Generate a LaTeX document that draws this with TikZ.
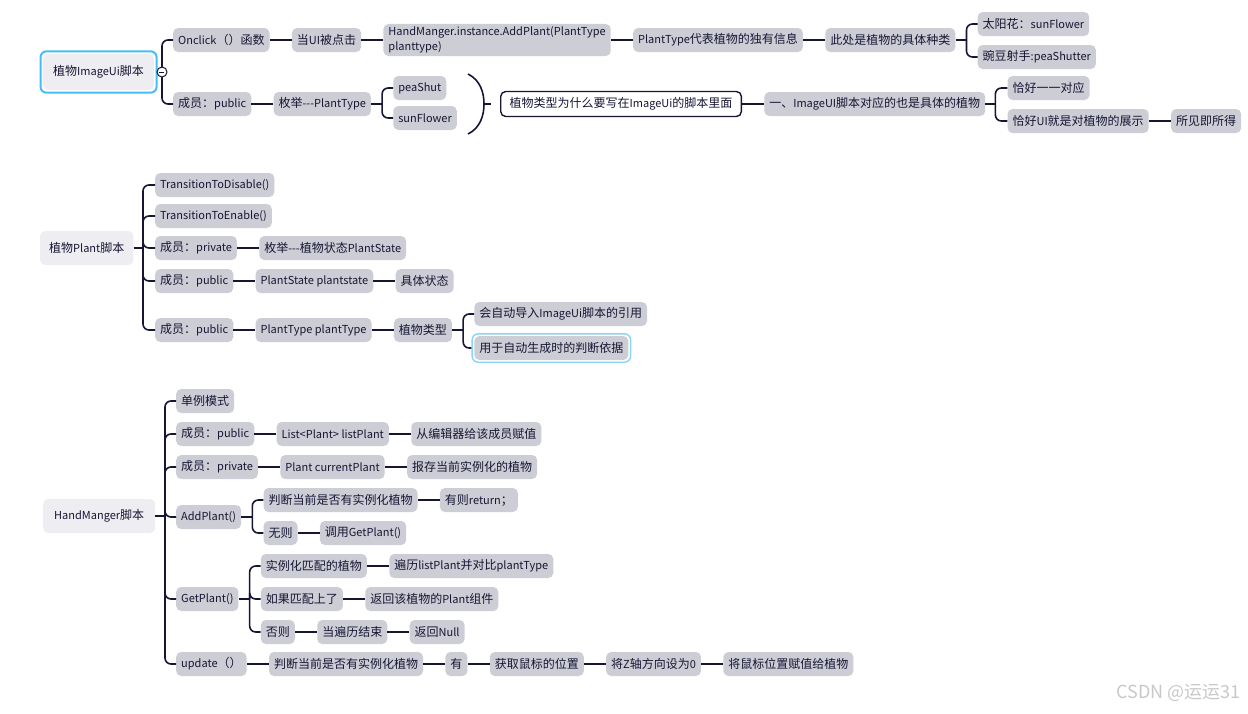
\documentclass[tikz,border=0pt]{standalone}
\usepackage{fontspec}
\setmainfont{Noto Sans CJK SC}
\usepackage{xcolor}
\usepackage{tikz}
\usetikzlibrary{positioning,fit}

\definecolor{boxgray}{RGB}{205,205,214}
\definecolor{rootgray}{RGB}{238,237,241}
\definecolor{ink}{RGB}{22,22,52}
\definecolor{cyanring}{RGB}{66,190,245}
\definecolor{selblue}{RGB}{140,212,245}
\definecolor{markgray}{RGB}{200,200,200}

% Han text a little larger than the Latin text
\newcommand\hansize{\fontsize{12pt}{14.5pt}\selectfont}
\newcommand\latsize{\fontsize{11pt}{14.5pt}\selectfont}
\newXeTeXintercharclass\hanclass
\newcount\hanpos
\hanpos="3000 \loop \XeTeXcharclass\hanpos=\hanclass \advance\hanpos by 1 \ifnum\hanpos<"3040 \repeat
\hanpos="4E00 \loop \XeTeXcharclass\hanpos=\hanclass \advance\hanpos by 1 \ifnum\hanpos<"A000 \repeat
\hanpos="FF00 \loop \XeTeXcharclass\hanpos=\hanclass \advance\hanpos by 1 \ifnum\hanpos<"FFF0 \repeat
\XeTeXinterchartoks 0 \hanclass = {\hansize}
\XeTeXinterchartoks 4095 \hanclass = {\hansize}
\XeTeXinterchartoks \hanclass 0 = {\latsize}

\begin{document}
\begin{tikzpicture}[
  x=1pt, y=-1pt,
  font=\latsize,
  box/.style={rounded corners=5pt, fill=boxgray, text=ink, inner xsep=5pt, inner ysep=3pt, minimum height=24pt,
    font={\latsize\XeTeXinterchartokenstate=1}},
  rootbox/.style={box, fill=rootgray, inner xsep=11pt, minimum height=34pt},
  askbox/.style={box, fill=white, draw=ink, line width=1.4pt, inner xsep=9pt, minimum height=25pt},
  link/.style={draw=ink, line width=1.6pt, rounded corners=6pt},
  selring/.style={draw=selblue, line width=1.4pt, rounded corners=6pt, inner sep=2pt},
  rootring/.style={draw=cyanring, line width=2pt, rounded corners=6pt, inner sep=2.5pt},
  foldmark/.style={circle, draw=ink, fill=white, line width=1pt, minimum size=10pt, inner sep=0pt},
  node distance=22pt
]
\useasboundingbox (0,0) rectangle (1248,713);

% ImageUi script
\node[rootbox, inner xsep=10pt, minimum height=36pt, anchor=west] (r1) at (43,72) {植物ImageUi脚本};
\node[rootring, fit=(r1)] (r1ring) {};
\coordinate (j1) at (162,72);
\node[box, anchor=west] (a1) at (173,40) {Onclick（）函数};
\node[box, right=of a1] (a2) {当UI被点击};
\node[box, right=of a2, align=left] (a3) {HandManger.instance.AddPlant(PlantType\\planttype)};
\node[box, right=of a3] (a4) {PlantType代表植物的独有信息};
\node[box, right=of a4] (a5) {此处是植物的具体种类};
\node[box, right=of a5, yshift=16pt] (a6) {太阳花：sunFlower};
\node[box, right=of a5, yshift=-17pt] (a7) {豌豆射手:peaShutter};
\node[box, anchor=west] (b1) at (173,104) {成员：public};
\node[box, right=of b1] (b2) {枚举-{}-{}-PlantType};
\node[box, right=of b2, yshift=16pt] (b3) {peaShut};
\node[box, right=of b2, yshift=-14pt] (b4) {sunFlower};
\node[askbox, anchor=west] (b5) at (500,104) {植物类型为什么要写在ImageUi的脚本里面};
\node[box, right=of b5] (b6) {一、ImageUI脚本对应的也是具体的植物};
\node[box, right=of b6, yshift=16pt] (b7) {恰好一一对应};
\node[box, right=of b6, yshift=-17pt] (b8) {恰好UI就是对植物的展示};
\node[box, right=of b8] (b9) {所见即所得};

\draw[link] (r1ring.east) -- (j1);
\foreach \c in {a1,b1} \draw[link] (j1) |- (\c.west);
\foreach \a/\b in {a1/a2,a2/a3,a3/a4,a4/a5,b1/b2,b5/b6,b8/b9} \draw[link] (\a) -- (\b);
\draw[link] (a5.east) -- ++(11,0) coordinate (ja5);
\foreach \c in {a6,a7} \draw[link] (ja5) |- (\c.west);
\draw[link] (b2.east) -- ++(11,0) coordinate (jb2);
\foreach \c in {b3,b4} \draw[link] (jb2) |- (\c.west);
\draw[link] (b6.east) -- ++(10,0) coordinate (jb6);
\foreach \c in {b7,b8} \draw[link] (jb6) |- (\c.west);
% summary brace
\draw[link, rounded corners=0pt] (468,74) .. controls (480,80) and (484,92) .. (484,104)
  .. controls (484,116) and (480,128) .. (468,134);
\draw[link] (484,104) -- (491,104);
\node[foldmark] (fold1) at (j1) {};
\draw[draw=ink, line width=1pt] (fold1.west) ++(2.5,0) -- ++(5,0);

% Plant script
\node[rootbox, inner xsep=9pt, anchor=west] (r2) at (40,248) {植物Plant脚本};
\coordinate (j2) at (143,248);
\node[box, anchor=west] (c1) at (155,185) {TransitionToDisable()};
\node[box, anchor=west] (c2) at (155,216) {TransitionToEnable()};
\node[box, anchor=west] (c3) at (155,248) {成员：private};
\node[box, right=of c3] (c4) {枚举-{}-{}-植物状态PlantState};
\node[box, anchor=west] (c5) at (155,281) {成员：public};
\node[box, right=of c5] (c6) {PlantState plantstate};
\node[box, right=of c6] (c7) {具体状态};
\node[box, anchor=west] (c8) at (155,330) {成员：public};
\node[box, right=of c8] (c9) {PlantType plantType};
\node[box, right=of c9] (c10) {植物类型};
\node[box, right=of c10, yshift=16pt] (c11) {会自动导入ImageUi脚本的引用};
\node[box, right=of c10, yshift=-18pt] (c12) {用于自动生成时的判断依据};
\node[selring, fit=(c12)] (c12ring) {};

\draw[link] (r2.east) -- (j2);
\foreach \c in {c1,c2,c3,c5,c8} \draw[link] (j2) |- (\c.west);
\foreach \a/\b in {c3/c4,c5/c6,c6/c7,c8/c9,c9/c10} \draw[link] (\a) -- (\b);
\draw[link] (c10.east) -- ++(11,0) coordinate (jc10);
\draw[link] (jc10) |- (c11.west);
\draw[link] (jc10) |- (c12ring.west);

% HandManger script
\node[rootbox, anchor=west] (r3) at (43,516) {HandManger脚本};
\coordinate (j3) at (165,516);
\node[box, anchor=west] (d1) at (176,401) {单例模式};
\node[box, anchor=west] (d2) at (176,434) {成员：public};
\node[box, right=of d2] (d3) {List<Plant> listPlant};
\node[box, right=of d3] (d4) {从编辑器给该成员赋值};
\node[box, anchor=west] (d5) at (176,467) {成员：private};
\node[box, right=of d5] (d6) {Plant currentPlant};
\node[box, right=of d6] (d7) {报存当前实例化的植物};
\node[box, anchor=west] (d8) at (176,517) {AddPlant()};
\node[box, right=of d8, yshift=17pt] (d9) {判断当前是否有实例化植物};
\node[box, right=of d9] (d10) {有则return；};
\node[box, right=of d8, yshift=-16pt] (d11) {无则};
\node[box, right=of d11] (d12) {调用GetPlant()};
\node[box, anchor=west] (d13) at (176,599) {GetPlant()};
\node[box, right=of d13, yshift=33pt] (d14) {实例化匹配的植物};
\node[box, right=of d14] (d15) {遍历listPlant并对比plantType};
\node[box, right=of d13] (d16) {如果匹配上了};
\node[box, right=of d16] (d17) {返回该植物的Plant组件};
\node[box, right=of d13, yshift=-33pt] (d18) {否则};
\node[box, right=of d18] (d19) {当遍历结束};
\node[box, right=of d19] (d20) {返回Null};
\node[box, anchor=west] (d21) at (176,664) {update（）};
\node[box, right=of d21] (d22) {判断当前是否有实例化植物};
\node[box, right=of d22] (d23) {有};
\node[box, right=of d23] (d24) {获取鼠标的位置};
\node[box, right=of d24] (d25) {将Z轴方向设为0};
\node[box, right=of d25] (d26) {将鼠标位置赋值给植物};

\draw[link] (r3.east) -- (j3);
\foreach \c in {d1,d2,d5,d8,d13,d21} \draw[link] (j3) |- (\c.west);
\foreach \a/\b in {d2/d3,d3/d4,d5/d6,d6/d7,d9/d10,d11/d12,d14/d15,d16/d17,d18/d19,d19/d20,d21/d22,d22/d23,d23/d24,d24/d25,d25/d26} \draw[link] (\a) -- (\b);
\draw[link] (d8.east) -- ++(11,0) coordinate (jd8);
\foreach \c in {d9,d11} \draw[link] (jd8) |- (\c.west);
\draw[link] (d13.east) -- ++(11,0) coordinate (jd13);
\foreach \c in {d14,d16,d18} \draw[link] (jd13) |- (\c.west);

% watermark
\node[text=markgray, font=\fontsize{18pt}{20pt}\selectfont, anchor=east] (mark) at (1244,693) {CSDN @运运31};
\end{tikzpicture}
\end{document}
